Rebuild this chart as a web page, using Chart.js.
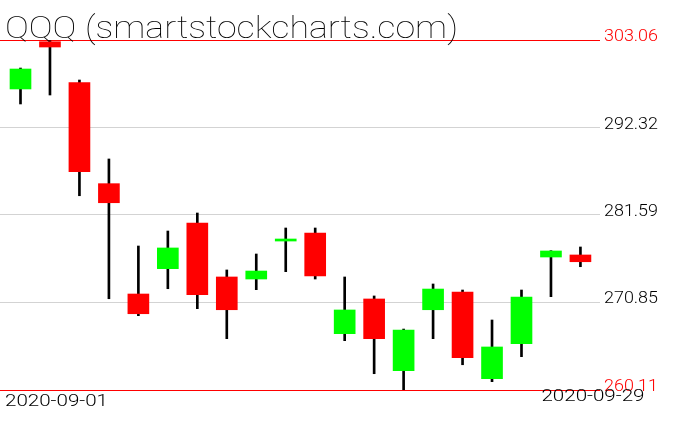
<!DOCTYPE html>
<html>
<head>
<meta charset="utf-8">
<script src="https://cdn.jsdelivr.net/npm/chart.js@4.4.1/dist/chart.umd.min.js"></script>
<style>
html,body{margin:0;padding:0;background:#fff;}
#wrap{width:676px;height:431px;position:relative;}
</style>
</head>
<body>
<div id="wrap"><canvas id="c" width="676" height="431"></canvas></div>
<script>
const title = 'QQQ (smartstockcharts.com)';
const dates = ['2020-09-01','2020-09-02','2020-09-03','2020-09-04','2020-09-08','2020-09-09','2020-09-10','2020-09-11','2020-09-14','2020-09-15','2020-09-16','2020-09-17','2020-09-18','2020-09-21','2020-09-22','2020-09-23','2020-09-24','2020-09-25','2020-09-28','2020-09-29'];
const openV  = [297.05, 302.85, 297.82, 285.43, 271.89, 275.00, 280.60, 273.98, 273.73, 278.39, 279.38, 267.02, 271.28, 262.48, 269.96, 272.14, 261.50, 265.79, 276.43, 276.68];
const highV  = [299.62, 302.97, 298.15, 288.46, 277.78, 279.62, 281.83, 274.84, 276.80, 279.99, 279.99, 273.98, 271.65, 267.59, 273.12, 272.38, 268.70, 272.38, 277.21, 277.66];
const lowV   = [295.21, 296.31, 283.95, 271.31, 269.23, 272.54, 270.09, 266.41, 272.42, 274.63, 273.73, 266.16, 262.11, 260.11, 266.41, 263.21, 261.13, 264.20, 271.56, 275.24];
const closeV = [299.50, 302.20, 286.90, 283.09, 269.47, 277.54, 271.80, 269.96, 274.71, 278.64, 274.10, 269.93, 266.41, 267.47, 272.50, 264.07, 265.39, 271.52, 277.17, 275.85];
const yTicks = [260.11, 270.85, 281.59, 292.32, 303.06];
const xLabelIdx = [0, dates.length - 1];

const UP = '#00ff00', DOWN = '#ff0000';
const FONT = '"Roboto", "Lato", "Inter", sans-serif';

function fitText(ctx, text, x, y, targetW, size, color, weight) {
  ctx.save();
  ctx.font = weight + ' ' + size + 'px ' + FONT;
  ctx.fillStyle = color;
  ctx.textBaseline = 'alphabetic';
  ctx.textAlign = 'left';
  const w = ctx.measureText(text).width;
  ctx.translate(x, y);
  ctx.scale(targetW / w, 1);
  ctx.fillText(text, 0, 0);
  ctx.restore();
}

const textPlugin = {
  id: 'texts',
  afterDraw(chart) {
    const ctx = chart.ctx;
    const ys = chart.scales.y, xs = chart.scales.x;
    fitText(ctx, title, 5, 38, 453, 32, '#000', 100);
    yTicks.forEach((v, i) => {
      const py = Math.round(ys.getPixelForValue(v));
      const red = (i === 0 || i === yTicks.length - 1);
      fitText(ctx, v.toFixed(2), 604, py + 1, 54, 17, red ? '#ff0000' : '#000', 300);
    });
    const x0 = xs.getPixelForValue(xLabelIdx[0]);
    fitText(ctx, dates[xLabelIdx[0]], x0 - 15.5, 406, 103, 16, '#000', 300);
    const x1 = xs.getPixelForValue(xLabelIdx[1]);
    fitText(ctx, dates[xLabelIdx[1]], x1 - 39, 401, 103, 16, '#000', 300);
  }
};

const bodies = dates.map((d, i) => ({x: i, y: [openV[i], closeV[i]]}));
const wicks = dates.map((d, i) => ({x: i, y: [lowV[i], highV[i]]}));
const bodyColors = dates.map((d, i) => closeV[i] >= openV[i] ? UP : DOWN);

new Chart(document.getElementById('c'), {
  type: 'bar',
  data: {
    datasets: [
      {data: wicks, backgroundColor: '#000', barThickness: 2, grouped: false, order: 2, borderWidth: 0},
      {data: bodies, backgroundColor: bodyColors, barThickness: 21, grouped: false, order: 1, borderWidth: 0, minBarLength: 1}
    ]
  },
  options: {
    responsive: false,
    animation: false,
    events: [],
    layout: {padding: {top: 40, bottom: 41, left: 0, right: 76}},
    plugins: {legend: {display: false}, tooltip: {enabled: false}, title: {display: false}},
    scales: {
      x: {type: 'linear', min: -0.6956, max: 19.664, display: false, offset: false},
      y: {
        type: 'linear', min: 260.11, max: 303.06, position: 'right',
        afterBuildTicks: s => { s.ticks = yTicks.map(v => ({value: v})); },
        afterFit: s => { s.width = 0; },
        ticks: {display: false},
        border: {display: false},
        grid: {
          drawTicks: false,
          lineWidth: 1,
          color: c => (c.index === 0 || c.index === yTicks.length - 1) ? '#ff0000' : '#d3d3d3'
        }
      }
    }
  },
  plugins: [textPlugin]
});
</script>
</body>
</html>
